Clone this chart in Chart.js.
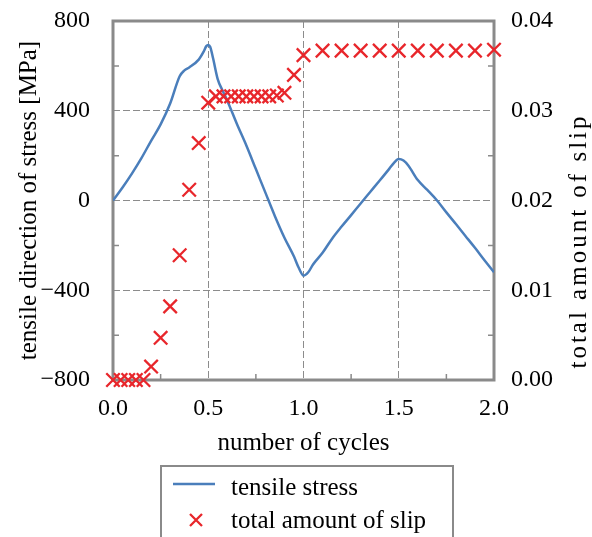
<!DOCTYPE html>
<html><head><meta charset="utf-8">
<script src="https://cdn.jsdelivr.net/npm/chart.js@4"></script>
<style>html,body{margin:0;padding:0;background:#fff;}#wrap{width:592px;height:537px;position:relative;overflow:hidden;}</style>
</head><body><div id="wrap"><canvas id="c" width="592" height="537"></canvas></div>
<script>
// ---- data ----
const stressCycles = [0,0.05,0.1,0.15,0.2,0.25,0.3,0.35,0.375,0.4,0.45,0.475,0.49,0.5,0.51,0.525,0.55,0.575,0.6,0.65,0.7,0.75,0.8,0.85,0.9,0.95,0.975,1.0,1.025,1.05,1.1,1.15,1.2,1.25,1.3,1.35,1.4,1.45,1.475,1.5,1.525,1.55,1.6,1.65,1.7,1.75,1.8,1.85,1.9,1.95,2.0];
const stressValues = [0,58,121,190,266,339,432,554,580,593,628,662,688,693,685,635,540,490,445,342,245,140,35,-70,-166,-250,-300,-335,-320,-285,-233,-170,-116,-65,-13,38,89,141,168,185,178,156,91,47,1,-53,-105,-158,-211,-266,-320];
const slipCycles = [0,0.04,0.08,0.12,0.16,0.2,0.25,0.3,0.35,0.4,0.45,0.5,0.54,0.58,0.62,0.66,0.7,0.74,0.78,0.82,0.86,0.9,0.95,1.0,1.1,1.2,1.3,1.4,1.5,1.6,1.7,1.8,1.9,2.0];
const slipValues = [0,0,0,0,0,0.0015,0.0047,0.0082,0.0139,0.0212,0.0264,0.0309,0.0316,0.0316,0.0316,0.0316,0.0316,0.0316,0.0316,0.0316,0.0317,0.0320,0.0340,0.0362,0.0367,0.0367,0.0367,0.0367,0.0367,0.0367,0.0367,0.0367,0.0367,0.0368];
const xTicks = [0,0.5,1,1.5,2];
const yTicks = [-800,-400,0,400,800];
const y2Ticks = [0,0.01,0.02,0.03,0.04];
const xMinorTicks = [0.25,0.75,1.25,1.75];
const yMinorTicks = [-600,-200,200,600];
const seriesLabels = ['tensile stress','total amount of slip'];
const xTitle = 'number of cycles';
const yTitle = 'tensile direction of stress [MPa]';
const y2Title = 'total amount of slip';

const FONT = '"Liberation Serif", "Times New Roman", serif';
const BLUE = '#4a7ebb';
const RED = '#e8262b';
const FRAME = '#8a8a8a';

const stressData = stressCycles.map((c,i)=>({x:c,y:stressValues[i]}));
const slipData = slipCycles.map((c,i)=>({x:c,y:slipValues[i]}));

const noPad = s => { s.paddingTop = 0; s.paddingBottom = 0; s.paddingLeft = 0; s.paddingRight = 0; };

const decorPlugin = {
  id:'decor',
  beforeDatasetsDraw(chart){
    const {ctx, chartArea:a, scales:{x,y}} = chart;
    ctx.save();
    ctx.strokeStyle = FRAME; ctx.lineWidth = 1.5;
    ctx.beginPath();
    yMinorTicks.forEach(v=>{const p=y.getPixelForValue(v);ctx.moveTo(a.left,p);ctx.lineTo(a.left+6,p);ctx.moveTo(a.right,p);ctx.lineTo(a.right-6,p);});
    xMinorTicks.forEach(v=>{const p=x.getPixelForValue(v);ctx.moveTo(p,a.bottom);ctx.lineTo(p,a.bottom-6);});
    ctx.stroke();
    ctx.lineWidth = 3;
    ctx.strokeRect(a.left,a.top,a.right-a.left,a.bottom-a.top);
    ctx.restore();
  },
  afterDraw(chart){
    const {ctx} = chart;
    ctx.save();
    ctx.fillStyle = '#000';
    ctx.font = '25px ' + FONT;
    ctx.translate(579, 241);
    ctx.rotate(-Math.PI/2);
    ctx.textAlign = 'center'; ctx.textBaseline = 'middle';
    try { ctx.letterSpacing = '3px'; } catch(e) {}
    ctx.fillText(y2Title, 0, 0);
    ctx.restore();

    ctx.save();
    ctx.strokeStyle = FRAME; ctx.lineWidth = 2;
    ctx.strokeRect(161, 466, 292, 90);
    ctx.strokeStyle = BLUE; ctx.lineWidth = 2.5;
    ctx.beginPath(); ctx.moveTo(173,484); ctx.lineTo(215,484); ctx.stroke();
    ctx.strokeStyle = RED; ctx.lineWidth = 2.3;
    ctx.beginPath(); ctx.moveTo(190,514); ctx.lineTo(202,526); ctx.moveTo(202,514); ctx.lineTo(190,526); ctx.stroke();
    ctx.fillStyle = '#000'; ctx.font = '25px ' + FONT;
    ctx.textAlign = 'left'; ctx.textBaseline = 'alphabetic';
    ctx.fillText(seriesLabels[0], 231, 495);
    ctx.fillText(seriesLabels[1], 231, 528);
    ctx.restore();
  }
};

const minus = v => v < 0 ? '\u2212' + Math.abs(v) : String(v);

new Chart(document.getElementById('c'), {
  type:'scatter',
  data:{datasets:[
    {label:seriesLabels[0], data:stressData, showLine:true, borderColor:BLUE, borderWidth:2.5, pointRadius:0, cubicInterpolationMode:'monotone', yAxisID:'y', order:2},
    {label:seriesLabels[1], data:slipData, showLine:false, pointStyle:'crossRot', pointRadius:9.5, pointBorderWidth:2.3, borderColor:RED, backgroundColor:RED, yAxisID:'y2', clip:false, order:1}
  ]},
  options:{
    responsive:false, animation:false, devicePixelRatio:1,
    layout:{autoPadding:false, padding:{top:21,bottom:77,left:0,right:0}},
    plugins:{legend:{display:false}, tooltip:{enabled:false}},
    scales:{
      x:{type:'linear', min:0, max:2, position:'bottom',
        afterBuildTicks:s=>{s.ticks = xTicks.map(v=>({value:v}));},
        afterFit:s=>{s.height = 80; noPad(s);},
        grid:{color:'#8c8c8c', lineWidth:1, drawTicks:false},
        border:{display:false, dash:[7,3]},
        ticks:{padding:14, color:'#000', font:{family:FONT,size:24}, maxRotation:0, callback:v=>Number(v).toFixed(1)},
        title:{display:true, text:xTitle, color:'#000', font:{family:FONT,size:25}, padding:{top:0,bottom:2}}
      },
      y:{type:'linear', min:-800, max:800, position:'left',
        afterBuildTicks:s=>{s.ticks = yTicks.map(v=>({value:v}));},
        afterFit:s=>{s.width = 113; noPad(s);},
        grid:{color:'#8c8c8c', lineWidth:1, drawTicks:false},
        border:{display:false, dash:[7,3]},
        ticks:{padding:23, color:'#000', font:{family:FONT,size:24}, callback:v=>minus(v)},
        title:{display:true, text:yTitle, color:'#000', font:{family:FONT,size:25}, padding:{top:14,bottom:0}}
      },
      y2:{type:'linear', min:0, max:0.04, position:'right',
        afterBuildTicks:s=>{s.ticks = y2Ticks.map(v=>({value:v}));},
        afterFit:s=>{s.width = 98; noPad(s);},
        grid:{drawOnChartArea:false, drawTicks:false},
        border:{display:false},
        ticks:{padding:17, color:'#000', font:{family:FONT,size:24}, callback:v=>Number(v).toFixed(2)}
      }
    }
  },
  plugins:[decorPlugin]
});
</script></body></html>
